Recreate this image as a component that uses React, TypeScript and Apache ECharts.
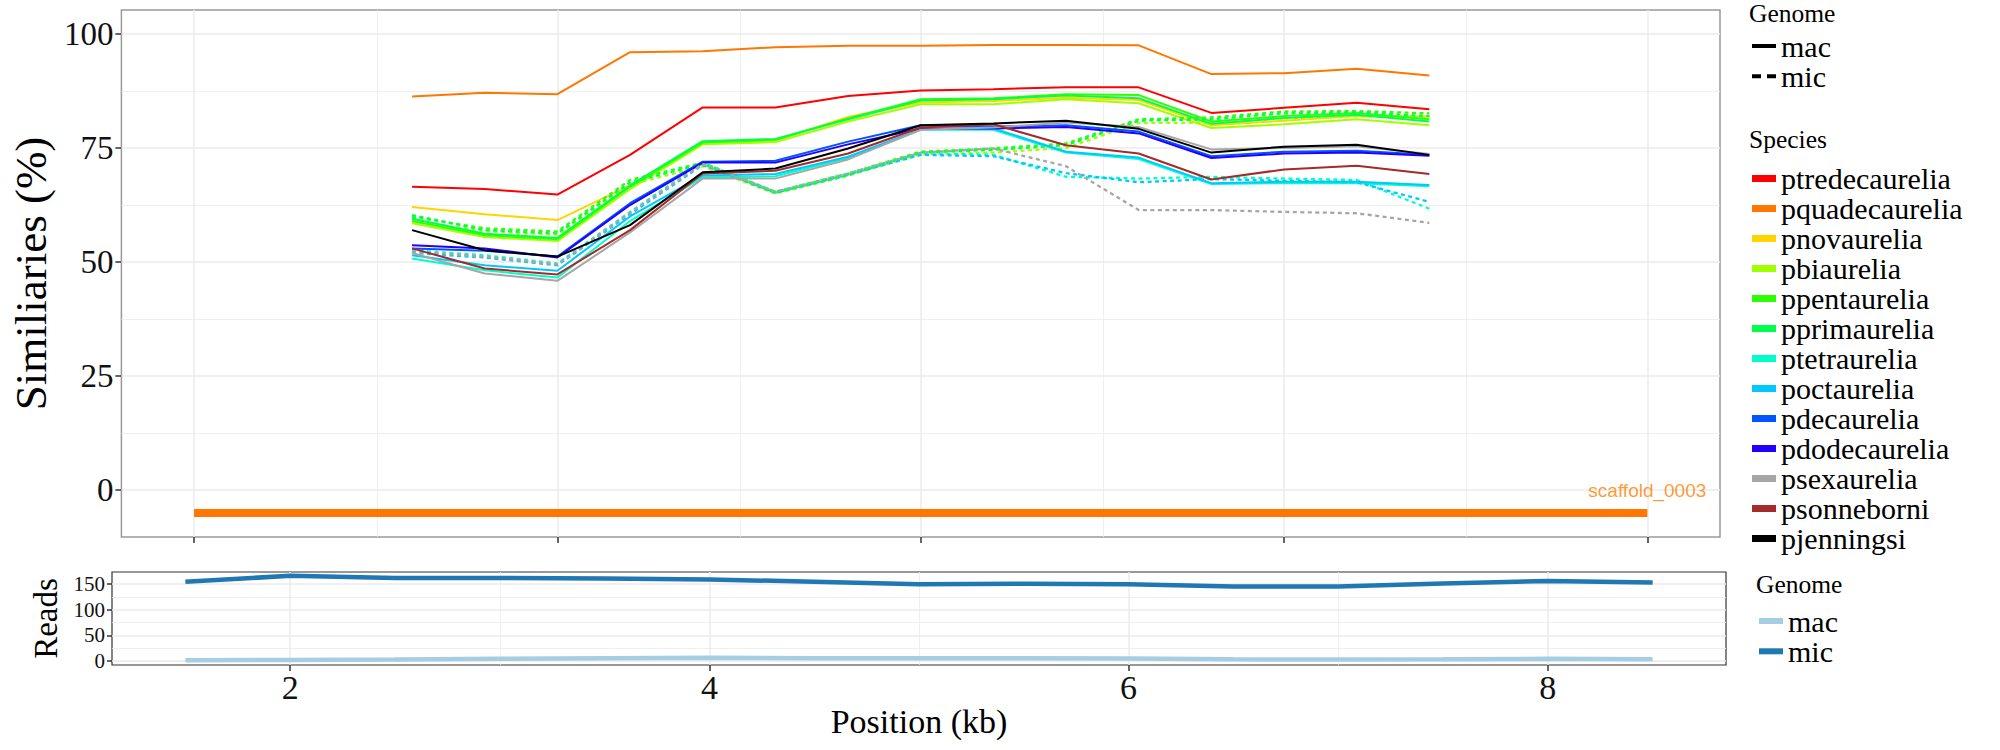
import React, { useEffect, useRef } from "react";
import * as echarts from "echarts";

// ---------- data ----------
const positions = [2.55, 2.9, 3.25, 3.6, 3.95, 4.3, 4.65, 5.0, 5.35, 5.7, 6.05, 6.4, 6.75, 7.1, 7.45];

const speciesNames = [
  "ptredecaurelia", "pquadecaurelia", "pnovaurelia", "pbiaurelia", "ppentaurelia",
  "pprimaurelia", "ptetraurelia", "poctaurelia", "pdecaurelia", "pdodecaurelia",
  "psexaurelia", "psonneborni", "pjenningsi",
];
const speciesColors = [
  "#FF0000", "#FF7700", "#FFD500", "#A2FF00", "#2EFF00",
  "#00FF4A", "#00FFC8", "#00C8FF", "#0055FF", "#2200FF",
  "#A6A6A6", "#A52A2A", "#000000",
];

// mac (solid) similarities (%)
const macPtredecaurelia = [66.5, 66.0, 64.8, 73.5, 83.9, 83.9, 86.4, 87.6, 87.9, 88.3, 88.3, 82.7, 83.8, 84.9, 83.5];
const macPquadecaurelia = [86.3, 87.1, 86.8, 96.0, 96.2, 97.1, 97.4, 97.4, 97.6, 97.6, 97.5, 91.2, 91.4, 92.4, 90.9];
const macPnovaurelia = [62.1, 60.5, 59.2, 66.8, 76.0, 76.6, 81.8, 85.0, 85.3, 86.0, 85.5, 80.0, 81.0, 82.0, 81.9];
const macPbiaurelia = [58.5, 55.5, 54.6, 66.0, 75.8, 76.3, 80.8, 84.6, 84.6, 85.7, 84.8, 79.4, 80.2, 81.3, 80.0];
const macPpentaurelia = [59.0, 55.9, 55.0, 66.5, 76.2, 76.8, 81.5, 85.7, 85.9, 86.8, 86.6, 80.8, 82.0, 82.7, 81.3];
const macPprimaurelia = [59.5, 56.2, 55.3, 66.8, 76.5, 77.0, 81.3, 85.4, 85.7, 86.5, 85.9, 80.3, 81.6, 82.3, 80.8];
const macPtetraurelia = [50.8, 48.2, 46.6, 59.0, 68.6, 68.8, 72.8, 79.0, 79.0, 74.0, 72.6, 67.1, 67.3, 67.3, 66.6];
const macPoctaurelia = [51.5, 49.3, 48.1, 60.0, 69.0, 69.3, 73.1, 79.1, 79.3, 74.2, 72.9, 67.3, 67.6, 67.6, 66.9];
const macPdecaurelia = [53.0, 52.5, 51.2, 62.9, 72.0, 72.2, 76.4, 80.0, 79.7, 80.0, 78.6, 73.2, 74.2, 74.4, 73.5];
const macPdodecaurelia = [53.7, 53.0, 51.0, 62.5, 71.8, 71.8, 75.8, 79.3, 79.3, 79.6, 78.2, 72.8, 73.8, 74.0, 73.3];
const macPsexaurelia = [52.0, 47.5, 45.9, 56.5, 68.3, 68.3, 72.5, 79.0, 79.5, 80.6, 79.6, 74.7, 75.0, 75.4, 73.7];
const macPsonneborni = [53.0, 48.6, 47.3, 57.0, 69.4, 70.0, 73.8, 79.5, 80.2, 75.6, 73.8, 68.1, 70.3, 71.1, 69.3];
const macPjenningsi = [57.0, 52.6, 51.2, 58.1, 69.7, 70.5, 74.9, 80.0, 80.4, 81.0, 79.2, 74.0, 75.3, 75.7, 73.5];

// mic (dashed) similarities (%)
const micPbiaurelia = [59.0, 56.8, 56.0, 67.0, 71.0, 65.0, 69.0, 73.6, 74.0, 75.0, 80.5, 80.5, 81.5, 82.0, 81.8];
const micPpentaurelia = [59.9, 57.4, 56.7, 68.0, 71.8, 65.4, 69.4, 74.2, 74.9, 76.0, 81.3, 81.7, 83.0, 83.1, 82.6];
const micPprimaurelia = [60.3, 57.0, 56.3, 67.5, 71.5, 65.2, 69.0, 74.0, 74.6, 75.6, 81.0, 81.3, 82.6, 82.8, 82.0];
const micPtetraurelia = [52.6, 51.5, 49.7, 61.0, 71.8, 65.4, 69.4, 73.8, 73.5, 68.7, 68.3, 68.7, 68.3, 68.0, 61.7];
const micPoctaurelia = [52.0, 51.0, 49.3, 60.5, 71.3, 65.2, 69.2, 73.5, 73.2, 69.5, 67.5, 68.2, 67.8, 67.5, 63.2];
const micPsexaurelia = [52.3, 51.2, 49.5, 60.8, 71.5, 65.4, 69.4, 74.0, 74.9, 71.0, 61.4, 61.4, 61.0, 60.7, 58.6];

const macValues = [
  macPtredecaurelia, macPquadecaurelia, macPnovaurelia, macPbiaurelia, macPpentaurelia,
  macPprimaurelia, macPtetraurelia, macPoctaurelia, macPdecaurelia, macPdodecaurelia,
  macPsexaurelia, macPsonneborni, macPjenningsi,
];
const micValues = [
  null, null, null, micPbiaurelia, micPpentaurelia,
  micPprimaurelia, micPtetraurelia, micPoctaurelia, null, null,
  micPsexaurelia, null, null,
];

const scaffoldName = "scaffold_0003";
const scaffoldStart = 1.5;
const scaffoldEnd = 8.5;
const scaffoldLevel = -5;
const scaffoldLabelLevel = 0;

// reads panel
const readPositions = [1.5, 2, 2.5, 3, 3.5, 4, 4.5, 5, 5.5, 6, 6.5, 7, 7.5, 8, 8.5];
const readsMac = [1.3, 2, 2.5, 4, 5, 6, 5, 5, 5, 4.5, 3, 2.5, 3, 4, 3];
const readsMic = [154.5, 166, 162, 162, 161, 159, 154.5, 149.4, 150.5, 149.4, 145, 145, 151, 156, 153];

// ticks / gridlines
const topXTicks = [1.5, 3.25, 5, 6.75, 8.5];
const topXMinor = [2.375, 4.125, 5.875, 7.625];
const topYTicks = [0, 25, 50, 75, 100];
const topYMinor = [12.5, 37.5, 62.5, 87.5];
const bottomXTicks = [2, 4, 6, 8];
const bottomXMinor = [3, 5, 7];
const bottomYTicks = [0, 50, 100, 150];
const bottomYMinor = [25, 75, 125];

const genomeLegend = ["mac", "mic"];

// ---------- chart ----------
const SERIF = "'Liberation Serif', 'Times New Roman', serif";
const SANS = "'Liberation Sans', Arial, sans-serif";

function gridLines(xi: number, yi: number, xs: number[], ys: number[], width: number) {
  return {
    type: "line",
    xAxisIndex: xi,
    yAxisIndex: yi,
    data: [],
    silent: true,
    z: 1,
    markLine: {
      silent: true,
      z: 1,
      symbol: ["none", "none"],
      label: { show: false },
      emphasis: { disabled: true },
      lineStyle: { color: "#EBEBEB", width, type: "solid" },
      data: [...xs.map((v) => ({ xAxis: v })), ...ys.map((v) => ({ yAxis: v }))],
    },
  };
}

function buildOption() {
  const series: any[] = [];
  series.push(gridLines(0, 0, topXMinor, topYMinor, 0.8));
  series.push(gridLines(0, 0, topXTicks, topYTicks, 1.5));
  series.push(gridLines(1, 1, bottomXMinor, bottomYMinor, 0.8));
  series.push(gridLines(1, 1, bottomXTicks, bottomYTicks, 1.5));

  series.push({
    name: scaffoldName,
    type: "line",
    xAxisIndex: 0,
    yAxisIndex: 0,
    data: [[scaffoldStart, scaffoldLevel], [scaffoldEnd, scaffoldLevel]],
    symbol: "none",
    silent: true,
    z: 3,
    lineStyle: { color: "#FF7700", width: 8, cap: "butt" },
  });
  series.push({
    name: scaffoldName + " label",
    type: "scatter",
    xAxisIndex: 0,
    yAxisIndex: 0,
    data: [[scaffoldEnd, scaffoldLabelLevel]],
    symbolSize: 1,
    silent: true,
    z: 4,
    itemStyle: { color: "rgba(0,0,0,0)" },
    label: {
      show: true,
      position: "inside",
      formatter: scaffoldName,
      color: "#FF7F00",
      fontSize: 19,
      fontFamily: SANS,
    },
  });

  speciesNames.forEach((name, i) => {
    const col = speciesColors[i];
    series.push({
      name,
      type: "line",
      xAxisIndex: 0,
      yAxisIndex: 0,
      data: positions.map((x, j) => [x, macValues[i][j]]),
      symbol: "none",
      color: col,
      z: 3,
      emphasis: { disabled: true },
      lineStyle: { color: col, width: 2 },
    });
    const mic = micValues[i];
    if (mic) {
      series.push({
        name,
        type: "line",
        xAxisIndex: 0,
        yAxisIndex: 0,
        data: positions.map((x, j) => [x, mic[j]]),
        symbol: "none",
        color: col,
        z: 3,
        emphasis: { disabled: true },
        lineStyle: { color: col, width: 2.3, type: [4, 3.5] },
      });
    }
  });

  // legend-only entries for the line-type key
  genomeLegend.forEach((g) => {
    series.push({
      name: g + " (line)",
      type: "line",
      xAxisIndex: 0,
      yAxisIndex: 0,
      data: [],
      color: "#000",
      symbol: "none",
    });
  });

  series.push({
    name: "mac",
    type: "line",
    xAxisIndex: 1,
    yAxisIndex: 1,
    data: readPositions.map((x, j) => [x, readsMac[j]]),
    symbol: "none",
    color: "#A6CEE3",
    z: 3,
    emphasis: { disabled: true },
    lineStyle: { color: "#A6CEE3", width: 4.5 },
  });
  series.push({
    name: "mic",
    type: "line",
    xAxisIndex: 1,
    yAxisIndex: 1,
    data: readPositions.map((x, j) => [x, readsMic[j]]),
    symbol: "none",
    color: "#1F78B4",
    z: 3,
    emphasis: { disabled: true },
    lineStyle: { color: "#1F78B4", width: 4.5 },
  });

  const tickStyle = { show: true, length: 6, inside: false, lineStyle: { color: "#333", width: 1.5 } };
  const legendText = { fontSize: 30, fontFamily: SERIF, color: "#000" };

  return {
    animation: false,
    backgroundColor: "#ffffff",
    grid: [
      { left: 112, top: 10, width: 1608, height: 527, show: true, borderColor: "#999999", borderWidth: 1.5, backgroundColor: "#ffffff" },
      { left: 112, top: 572, width: 1614, height: 93, show: true, borderColor: "#333333", borderWidth: 1.2, backgroundColor: "#ffffff" },
    ],
    xAxis: [
      {
        gridIndex: 0, type: "value", min: 1.15, max: 8.85,
        axisLine: { show: false, onZero: false },
        axisTick: { ...tickStyle, customValues: topXTicks },
        axisLabel: { show: false },
        splitLine: { show: false },
      },
      {
        gridIndex: 1, type: "value", min: 1.15, max: 8.85,
        axisLine: { show: false, onZero: false },
        axisTick: { ...tickStyle, customValues: bottomXTicks },
        axisLabel: { customValues: bottomXTicks, fontSize: 34, fontFamily: SERIF, color: "#111", margin: 5 },
        splitLine: { show: false },
        name: "Position (kb)",
        nameLocation: "middle",
        nameGap: 37,
        nameTextStyle: { fontSize: 34, fontFamily: SERIF, color: "#000" },
      },
    ],
    yAxis: [
      {
        gridIndex: 0, type: "value", min: -10.25, max: 105.25,
        axisLine: { show: false, onZero: false },
        axisTick: { ...tickStyle, customValues: topYTicks },
        axisLabel: { customValues: topYTicks, fontSize: 33, fontFamily: SERIF, color: "#111", margin: 8 },
        splitLine: { show: false },
        name: "Similiaries (%)",
        nameLocation: "middle",
        nameRotate: 90,
        nameGap: 64,
        nameTextStyle: { fontSize: 45, fontFamily: SERIF, color: "#000" },
      },
      {
        gridIndex: 1, type: "value", min: -8, max: 173.5,
        axisLine: { show: false, onZero: false },
        axisTick: { ...tickStyle, length: 5, customValues: bottomYTicks },
        axisLabel: { customValues: bottomYTicks, fontSize: 21, fontFamily: SERIF, color: "#111", margin: 7 },
        splitLine: { show: false },
        name: "Reads",
        nameLocation: "middle",
        nameRotate: 90,
        nameGap: 44,
        nameTextStyle: { fontSize: 33, fontFamily: SERIF, color: "#000" },
      },
    ],
    legend: [
      {
        data: [
          { name: "mac (line)", icon: "path://M0,0H24V4H0Z" },
          { name: "mic (line)", icon: "path://M0,0H9V4H0ZM15,0H24V4H15Z" },
        ],
        formatter: (n: string) => n.replace(" (line)", ""),
        orient: "vertical", left: 1752, top: 31, padding: 0,
        itemWidth: 24, itemHeight: 4, itemGap: 0.3, itemTextGap: 15,
        selectedMode: false,
        textStyle: legendText,
      },
      {
        data: speciesNames,
        icon: "rect",
        orient: "vertical", left: 1752, top: 163.5, padding: 0,
        itemWidth: 24, itemHeight: 7, itemGap: 0, itemTextGap: 15,
        selectedMode: false,
        textStyle: legendText,
      },
      {
        data: genomeLegend,
        icon: "rect",
        orient: "vertical", left: 1759, top: 606, padding: 0,
        itemWidth: 24, itemHeight: 6, itemGap: 0.3, itemTextGap: 15,
        selectedMode: false,
        textStyle: legendText,
      },
    ],
    graphic: [
      { type: "text", left: 1749, top: 0.5, style: { text: "Genome", fontSize: 25.5, fontFamily: SERIF, fill: "#000" } },
      { type: "text", left: 1749, top: 126, style: { text: "Species", fontSize: 25.5, fontFamily: SERIF, fill: "#000" } },
      { type: "text", left: 1756, top: 571, style: { text: "Genome", fontSize: 25.5, fontFamily: SERIF, fill: "#000" } },
    ],
    series,
  };
}

export default function App() {
  const ref = useRef<HTMLDivElement>(null);
  useEffect(() => {
    document.body.style.margin = "0";
    if (!ref.current) return;
    const chart = echarts.init(ref.current, undefined, { renderer: "svg" });
    chart.setOption(buildOption() as any);
    return () => chart.dispose();
  }, []);
  return <div ref={ref} style={{ width: 2000, height: 750, position: "absolute", left: 0, top: 0 }} />;
}
